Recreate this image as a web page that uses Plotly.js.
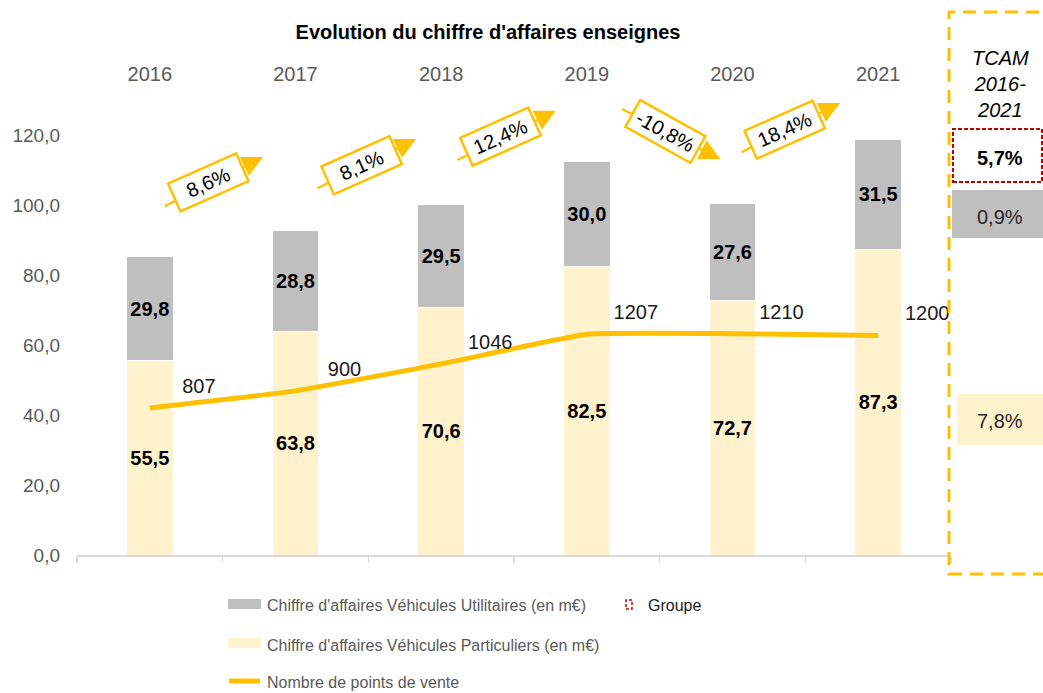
<!DOCTYPE html>
<html><head><meta charset="utf-8">
<script src="https://cdn.plot.ly/plotly-3.0.1.min.js"></script>
<style>html,body{margin:0;padding:0;background:#fff}#chart{width:1043px;height:693px}</style>
</head><body><div id="chart"></div>
<script>
// ---------- DATA ----------
const years = ['2016', '2017', '2018', '2019', '2020', '2021'];
const caUtilitaires = [29.8, 28.8, 29.5, 30.0, 27.6, 31.5];
const caParticuliers = [55.5, 63.8, 70.6, 82.5, 72.7, 87.3];
const pointsDeVente = [807, 900, 1046, 1207, 1210, 1200];
const seriesNames = [
  "Chiffre d'affaires Véhicules Utilitaires (en m€)",
  "Chiffre d'affaires Véhicules Particuliers (en m€)",
  "Nombre de points de vente"
];
const chartTitle = "Evolution du chiffre d'affaires enseignes";
const tcamTitle = 'TCAM<br>2016-<br>2021';
const tcamGroupe = '5,7%';
const tcamUtilitaires = '0,9%';
const tcamParticuliers = '7,8%';
const groupeLabel = 'Groupe';

// ---------- derived ----------
const fmt1 = v => v.toFixed(1).replace('.', ',');
const totals = years.map((_, i) => +(caParticuliers[i] + caUtilitaires[i]).toFixed(1));
const growth = totals.slice(1).map((t, i) => (t / totals[i] - 1) * 100);

// ---------- geometry (layout only) ----------
const W = 1043, H = 693, L = 77, R = 951, T = 90, B = 555;
const PXU = 3.5;                       // pixels per unit on the main y axis
const yTop = (B - T) / PXU;
const y2k = 0.05275, y2off = 11;       // secondary axis scaling
const y2Range = [y2off, y2off + yTop / y2k];
const px2x = px => (px - L) / (R - L);
const py2y = py => (B - py) / (B - T);
// label offset for the line values: 49 px right, 20 px up (done by shifting overlay axis ranges)
const catPx = (R - L) / 6;
const lblDx = 49 / catPx;
const lblDy = 20 * (y2Range[1] - y2Range[0]) / (B - T);

const FONT = 'Liberation Sans, Arial, sans-serif';
const GOLD = '#FFC000', GREY = '#BFBFBF', CREAM = '#FFF2CC', TXT = '#595959', RED = '#C00000';

// ---------- traces ----------
const traces = [
  {
    type: 'bar', x: years, y: caParticuliers, name: seriesNames[1],
    marker: {color: CREAM, line: {color: '#ffffff', width: 1}},
    width: 0.32, text: caParticuliers.map(fmt1), textposition: 'inside',
    insidetextanchor: 'middle', constraintext: 'none',
    textfont: {family: FONT, size: 20, color: '#000', weight: 'bold'},
    hoverinfo: 'skip', showlegend: false
  },
  {
    type: 'bar', x: years, y: caUtilitaires, name: seriesNames[0],
    marker: {color: GREY, line: {color: '#ffffff', width: 1}},
    width: 0.32, text: caUtilitaires.map(fmt1), textposition: 'inside',
    insidetextanchor: 'middle', constraintext: 'none',
    textfont: {family: FONT, size: 20, color: '#000', weight: 'bold'},
    hoverinfo: 'skip', showlegend: false
  },
  {
    type: 'scatter', mode: 'lines', x: years, y: pointsDeVente, name: seriesNames[2],
    xaxis: 'x2', yaxis: 'y2',
    line: {color: GOLD, width: 5, shape: 'spline', smoothing: 0.35},
    hoverinfo: 'skip', showlegend: false
  },
  {
    type: 'scatter', mode: 'text', x: years, y: pointsDeVente, name: 'labels',
    xaxis: 'x3', yaxis: 'y3', text: pointsDeVente.map(String), textposition: 'middle center',
    textfont: {family: FONT, size: 20, color: '#1a1a1a'}, cliponaxis: false,
    hoverinfo: 'skip', showlegend: false
  }
];

// ---------- annotations ----------
const annotations = [];
// totals above bars
years.forEach((yr, i) => annotations.push({
  x: yr, y: totals[i], xref: 'x', yref: 'y', text: fmt1(totals[i]), showarrow: false,
  xanchor: 'center', yanchor: 'middle',
  xshift: 4, yshift: 30, font: {family: FONT, size: 20, color: '#000', weight: 'bold'}
}));
// growth arrows
const arrowDx = [0.40, 0.45, 0.41, 0.54, 0.36];
const arrowY = [106.3, 111.4, 119.5, 121.1, 121.7];
growth.forEach((g, i) => {
  const up = g >= 0;
  const cx = i + arrowDx[i], cy = arrowY[i];
  annotations.push({
    x: cx, y: cy, xref: 'x', yref: 'y', text: '', showarrow: true,
    xshift: 55, yshift: up ? 26 : -28, ax: -100, ay: up ? 50 : -51,
    arrowhead: 2, arrowsize: 1.9, arrowwidth: 2.2, arrowcolor: GOLD, standoff: 0, startstandoff: 0
  });
  annotations.push({
    x: cx, y: cy, xref: 'x', yref: 'y', text: fmt1(g) + '%', showarrow: false,
    xanchor: 'center', yanchor: 'middle',
    textangle: up ? -24 : 29, bgcolor: '#ffffff', bordercolor: GOLD, borderwidth: 2.5,
    borderpad: 2, width: 68, height: 24,
    font: {family: FONT, size: 20, color: '#000'}
  });
});
// TCAM panel texts
const pAnn = (px, py, text, font, extra) => Object.assign({
  xref: 'paper', yref: 'paper', x: px2x(px), y: py2y(py), text: text, showarrow: false,
  xanchor: 'center', yanchor: 'middle', font: font
}, extra || {});
annotations.push(pAnn(1001, 84, tcamTitle, {family: FONT, size: 20, color: '#000', style: 'italic'}, {align: 'center'}));
annotations.push(pAnn(1000, 158, tcamGroupe, {family: FONT, size: 20, color: '#000', weight: 'bold'}));
annotations.push(pAnn(1000, 217, tcamUtilitaires, {family: FONT, size: 20, color: '#262626'}));
annotations.push(pAnn(1000, 421, tcamParticuliers, {family: FONT, size: 20, color: '#262626'}));
// legend texts
const legTextY = [605, 645, 682];
seriesNames.forEach((n, i) => annotations.push(
  pAnn(265, legTextY[i], n, {family: FONT, size: 16, color: TXT}, {xanchor: 'left'})));
annotations.push(pAnn(646, 605, groupeLabel, {family: FONT, size: 16, color: '#1a1a1a'}, {xanchor: 'left'}));

// ---------- shapes ----------
const rectPx = (x0, y0, x1, y1, extra) => Object.assign({
  type: 'rect', xref: 'paper', yref: 'paper', x0: px2x(x0), x1: px2x(x1), y0: py2y(y1), y1: py2y(y0)
}, extra);
const shapes = [
  // TCAM dashed panel
  rectPx(949, 12, 1070, 574, {line: {color: GOLD, width: 3, dash: '13px,8px'}, fillcolor: 'rgba(0,0,0,0)'}),
  rectPx(953, 129, 1042, 182, {line: {color: RED, width: 2, dash: '4px,2px'}, fillcolor: '#ffffff'}),
  rectPx(952, 190, 1060, 238, {line: {width: 0}, fillcolor: GREY}),
  rectPx(957, 394, 1060, 445, {line: {width: 0}, fillcolor: CREAM}),
  // legend swatches
  rectPx(228, 599, 261, 609, {line: {width: 0}, fillcolor: GREY}),
  rectPx(228, 638, 261, 648, {line: {width: 0}, fillcolor: CREAM}),
  {type: 'line', xref: 'paper', yref: 'paper', x0: px2x(229), x1: px2x(260), y0: py2y(681), y1: py2y(681),
   line: {color: GOLD, width: 5}},
  rectPx(626, 600, 632, 609, {line: {color: RED, width: 1.5, dash: '3px,2px'}, fillcolor: 'rgba(0,0,0,0)'})
];

// ---------- layout ----------
const layout = {
  width: W, height: H,
  margin: {l: L, r: W - R, t: T, b: H - B, pad: 0},
  paper_bgcolor: '#ffffff', plot_bgcolor: '#ffffff',
  font: {family: FONT, color: TXT},
  title: {text: chartTitle, x: 488 / W, xref: 'container', xanchor: 'center',
          y: 1 - 32 / H, yref: 'container', yanchor: 'middle',
          font: {family: FONT, size: 20, color: '#000', weight: 'bold'}},
  barmode: 'stack',
  showlegend: false,
  xaxis: {type: 'category', categoryarray: years, range: [-0.5, 5.5], showticklabels: false,
          showline: true, linecolor: '#D9D9D9', linewidth: 1.5, ticks: 'outside', tickson: 'boundaries',
          ticklen: 6, tickcolor: '#D9D9D9', tickwidth: 1.5, showgrid: false, zeroline: false,
          fixedrange: true, automargin: false},
  xaxis2: {type: 'category', categoryarray: years, range: [-0.5, 5.5], overlaying: 'x', side: 'top',
           showline: false, ticks: '', showgrid: false, zeroline: false, ticklabelstandoff: 4,
           tickfont: {family: FONT, size: 20, color: TXT}, fixedrange: true, automargin: false},
  xaxis3: {type: 'category', categoryarray: years, range: [-0.5 - lblDx, 5.5 - lblDx], overlaying: 'x',
           visible: false, fixedrange: true, automargin: false},
  yaxis: {range: [0, yTop], tickvals: [0, 20, 40, 60, 80, 100, 120], tickformat: '.1f',
          showgrid: false, zeroline: false, showline: false, ticks: '', ticklabelstandoff: 16,
          tickfont: {family: FONT, size: 19, color: TXT}, fixedrange: true, automargin: false},
  yaxis2: {range: y2Range, overlaying: 'y', side: 'right', showticklabels: false, showgrid: false,
           showline: false, ticks: '', zeroline: false, fixedrange: true, automargin: false},
  yaxis3: {range: [y2Range[0] - lblDy, y2Range[1] - lblDy], overlaying: 'y', visible: false,
           fixedrange: true, automargin: false},
  separators: ', ',
  annotations: annotations,
  shapes: shapes
};

Plotly.newPlot('chart', traces, layout, {staticPlot: true, displayModeBar: false});
</script>
</body></html>
